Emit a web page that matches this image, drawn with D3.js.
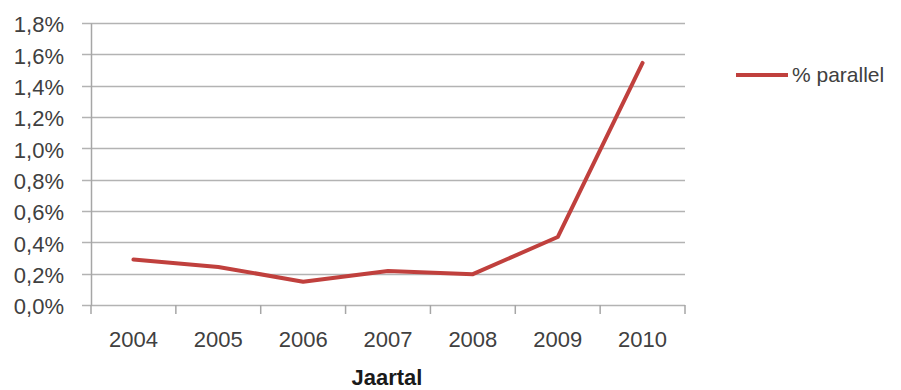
<!DOCTYPE html>
<html><head><meta charset="utf-8">
<script src="https://cdn.jsdelivr.net/npm/d3@7"></script>
<style>body{margin:0;background:#fff}svg{display:block}</style>
</head><body><svg id="c" width="901" height="390"></svg>
<script>
const years = ["2004","2005","2006","2007","2008","2009","2010"];
const parallel = [0.0029,0.00243,0.00149,0.00217,0.00197,0.00434,0.01545];
const yTicks = [0,0.002,0.004,0.006,0.008,0.010,0.012,0.014,0.016,0.018];
const seriesName = "% parallel";
const xTitle = "Jaartal";

(function(){
const svg = d3.select("#c");
const pLeft = 91, pRight = 685, pTop = 23, pBottom = 305;
const x = d3.scaleBand().domain(years).range([pLeft, pRight]);
const y = d3.scaleLinear().domain([0, 0.018]).range([pBottom, pTop]);
const font = "'Liberation Sans', Arial, sans-serif";
const fmt = v => (v*100).toFixed(1).replace(".", ",") + "%";

// gridlines
svg.append("g").selectAll("line").data(yTicks).join("line")
  .attr("x1", pLeft - 9).attr("x2", pRight)
  .attr("y1", d => Math.round(y(d)) + 0.5).attr("y2", d => Math.round(y(d)) + 0.5)
  .attr("stroke", "#b3b3b3").attr("stroke-width", 1.5);

// y axis
const yAxis = svg.append("g").attr("transform", `translate(${pLeft},0)`)
  .call(d3.axisLeft(y).tickValues(yTicks).tickFormat(fmt).tickSize(0).tickPadding(27));
yAxis.select(".domain").attr("stroke", "#a6a6a6").attr("stroke-width", 1.5);
yAxis.selectAll("text").attr("font-family", font).attr("font-size", 22).attr("fill", "#404040")
  .attr("dy", "0.4em");

// x axis
const xAxis = svg.append("g").attr("transform", `translate(0,${pBottom})`)
  .call(d3.axisBottom(x).tickSize(0).tickPadding(26));
xAxis.select(".domain").remove();
xAxis.selectAll("text").attr("font-family", font).attr("font-size", 22).attr("fill", "#404040");
const bounds = years.map(d => x(d)).concat([pRight]);
svg.append("g").selectAll("line").data(bounds).join("line")
  .attr("x1", d => d).attr("x2", d => d)
  .attr("y1", pBottom).attr("y2", pBottom + 9)
  .attr("stroke", "#a6a6a6").attr("stroke-width", 1.5);

// line
const line = d3.line().x((d, i) => x(years[i]) + x.bandwidth() / 2).y(d => y(d));
svg.append("path").datum(parallel).attr("d", line)
  .attr("fill", "none").attr("stroke", "#c0403d").attr("stroke-width", 4)
  .attr("stroke-linejoin", "round").attr("stroke-linecap", "round");

// x title
svg.append("text").attr("x", 387).attr("y", 385).attr("text-anchor", "middle")
  .attr("font-family", font).attr("font-size", 22).attr("font-weight", "bold")
  .attr("fill", "#1a1a1a").text(xTitle);

// legend
const lg = svg.append("g");
lg.append("line").attr("x1", 736).attr("x2", 788).attr("y1", 75).attr("y2", 75)
  .attr("stroke", "#c0403d").attr("stroke-width", 4);
lg.append("text").attr("x", 792).attr("y", 75).attr("dy", "0.35em")
  .attr("font-family", font).attr("font-size", 21).attr("fill", "#404040").text(seriesName);
})();
</script></body></html>
